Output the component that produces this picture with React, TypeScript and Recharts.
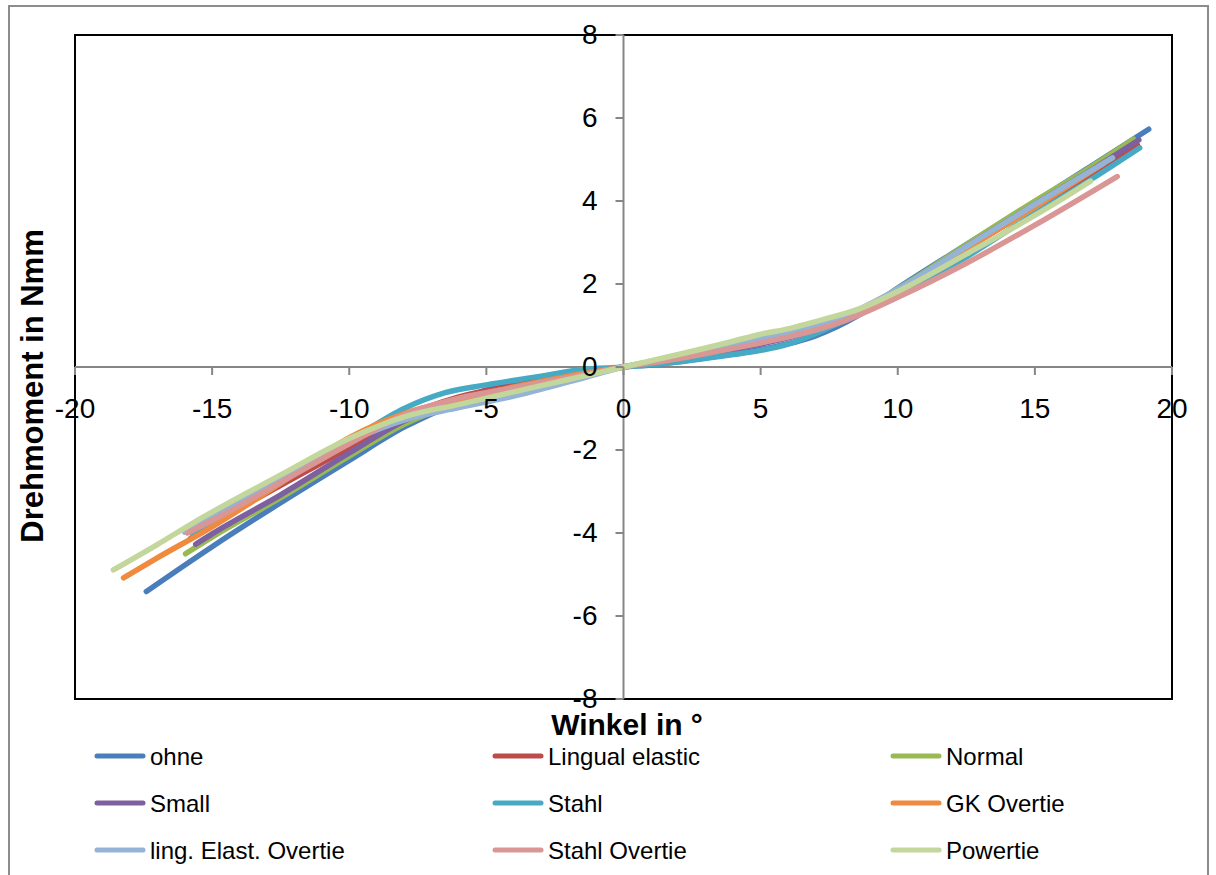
import { LineChart, Line, XAxis, YAxis, ReferenceLine, ReferenceArea, ReferenceDot } from 'recharts';

// Achsen
const xTicks = [-20, -15, -10, -5, 0, 5, 10, 15, 20];
const yTicks = [-8, -6, -4, -2, 0, 2, 4, 6, 8];

// Messkurven [Winkel in °, Drehmoment in Nmm]
const ohne = [[-17.4, -5.41], [-15, -4.33], [-12.5, -3.27], [-10, -2.25], [-8, -1.45], [-6.5, -0.98], [-5, -0.55], [-3, -0.3], [-1, -0.1], [0, 0], [1, 0.05], [3, 0.22], [5, 0.42], [7, 0.75], [8.5, 1.22], [10, 1.9], [12.5, 2.95], [15, 3.98], [17, 4.82], [19.15, 5.73]];
const lingualElastic = [[-15.8, -4.14], [-15, -3.8], [-12.5, -2.85], [-10, -1.95], [-8, -1.2], [-6, -0.72], [-4, -0.45], [-2, -0.22], [0, 0], [2, 0.2], [4, 0.45], [6, 0.72], [8, 1.15], [10, 1.8], [12.5, 2.85], [15, 3.85], [17, 4.6], [18.74, 5.35]];
const normal = [[-15.97, -4.5], [-15, -4.1], [-12.5, -3.15], [-10, -2.15], [-8, -1.38], [-6, -0.85], [-4, -0.5], [-2, -0.25], [0, 0], [2, 0.22], [4, 0.45], [6, 0.72], [8, 1.15], [10, 1.88], [12.5, 2.95], [15, 4.0], [17, 4.8], [18.6, 5.49]];
const small = [[-15.6, -4.27], [-15, -4.02], [-12.5, -3.08], [-10, -2.07], [-8, -1.3], [-6, -0.8], [-4, -0.48], [-2, -0.22], [0, 0], [2, 0.2], [4, 0.43], [6, 0.7], [8, 1.12], [10, 1.85], [12.5, 2.9], [15, 3.92], [17, 4.72], [18.79, 5.47]];
const stahl = [[-15.7, -4.05], [-15, -3.75], [-12.5, -2.72], [-10, -1.78], [-8, -1.0], [-6.5, -0.62], [-5, -0.43], [-3, -0.22], [-1.5, -0.06], [0, 0], [2, 0.12], [4, 0.3], [5, 0.4], [6, 0.55], [7, 0.8], [8, 1.1], [10, 1.7], [12.5, 2.65], [15, 3.7], [17, 4.5], [18.82, 5.28]];
const gkOvertie = [[-18.23, -5.08], [-17, -4.6], [-15, -3.85], [-12.5, -2.8], [-10, -1.7], [-8, -1.12], [-6, -0.78], [-4, -0.48], [-2, -0.22], [0, 0], [2, 0.25], [4, 0.52], [6, 0.8], [8, 1.18], [10, 1.82], [12.5, 2.85], [15, 3.85], [17.5, 4.9]];
const lingElastOvertie = [[-16, -3.98], [-15, -3.6], [-12.5, -2.68], [-10, -1.8], [-8, -1.28], [-6, -0.98], [-4, -0.7], [-2, -0.36], [0, 0], [2, 0.25], [4, 0.55], [6, 0.85], [8, 1.22], [10, 1.88], [12.5, 2.9], [15, 3.92], [17.83, 5.04]];
const stahlOvertie = [[-15.9, -4.0], [-15, -3.7], [-12.5, -2.78], [-10, -1.85], [-8, -1.15], [-6, -0.75], [-4, -0.5], [-2, -0.25], [0, 0], [2, 0.2], [4, 0.45], [5, 0.58], [6, 0.72], [8, 1.1], [10, 1.68], [12.5, 2.5], [15, 3.42], [18, 4.59]];
const powertie = [[-18.6, -4.89], [-17, -4.28], [-15.7, -3.76], [-12.5, -2.6], [-10, -1.72], [-8, -1.2], [-6, -0.9], [-4, -0.6], [-2, -0.3], [0, 0], [2, 0.3], [4, 0.62], [5, 0.79], [6, 0.92], [7.2, 1.13], [8.6, 1.4], [10, 1.82], [12.5, 2.72], [15.5, 3.85], [17.03, 4.48]];

const series = [
  { name: 'ohne', color: '#4A7EBB', points: ohne },
  { name: 'Lingual elastic', color: '#BE4B48', points: lingualElastic },
  { name: 'Normal', color: '#98B954', points: normal },
  { name: 'Small', color: '#7D60A0', points: small },
  { name: 'Stahl', color: '#46AAC5', points: stahl },
  { name: 'GK Overtie', color: '#F08A3E', points: gkOvertie },
  { name: 'ling. Elast. Overtie', color: '#95B3D7', points: lingElastOvertie },
  { name: 'Stahl Overtie', color: '#D99694', points: stahlOvertie },
  { name: 'Powertie', color: '#C3D69B', points: powertie },
];

const FONT = '"Liberation Sans", Arial, sans-serif';
const AXIS_GRAY = '#868686';

function XTickMark({ cx, cy, value }: any) {
  return (
    <g>
      <line x1={cx} y1={cy} x2={cx} y2={cy + 8} stroke={AXIS_GRAY} strokeWidth={2} />
      <text x={cx} y={cy + 51} textAnchor="middle" fontSize={28} fontFamily={FONT} fill="#000">
        {value}
      </text>
    </g>
  );
}

function YTickMark({ cx, cy, value }: any) {
  return (
    <g>
      <line x1={cx - 8} y1={cy} x2={cx} y2={cy} stroke={AXIS_GRAY} strokeWidth={2} />
      <text x={cx - 26} y={cy + 9} textAnchor="end" fontSize={28} fontFamily={FONT} fill="#000">
        {value}
      </text>
    </g>
  );
}

export default function App() {
  return (
    <div style={{ position: 'absolute', left: 0, top: 0, width: 1216, height: 875, overflow: 'hidden', background: '#fff' }}>
      {/* äußerer Diagrammrahmen */}
      <div
        style={{
          position: 'absolute',
          left: 8,
          top: 5,
          width: 1201,
          height: 900,
          border: '2px solid #8c8c8c',
          boxSizing: 'border-box',
        }}
      />

      <div style={{ position: 'absolute', left: 0, top: 0 }}>
        <LineChart width={1216} height={875} margin={{ top: 35, right: 44, bottom: 176, left: 75 }}>
          <XAxis type="number" dataKey="x" domain={[-20, 20]} ticks={xTicks} hide allowDataOverflow />
          <YAxis type="number" dataKey="y" domain={[-8, 8]} ticks={yTicks} hide allowDataOverflow />

          <ReferenceArea x1={-20} x2={20} y1={-8} y2={8} fill="#fff" fillOpacity={0} stroke="#000" strokeWidth={2} />
          <ReferenceLine x={0} stroke={AXIS_GRAY} strokeWidth={2} />
          <ReferenceLine y={0} stroke={AXIS_GRAY} strokeWidth={2} />

          {xTicks.map((t) => (
            <ReferenceDot
              key={'x' + t}
              x={t}
              y={0}
              r={0}
              ifOverflow="visible"
              shape={(p: any) => <XTickMark cx={p.cx} cy={p.cy} value={t} />}
            />
          ))}
          {yTicks.map((t) => (
            <ReferenceDot
              key={'y' + t}
              x={0}
              y={t}
              r={0}
              ifOverflow="visible"
              shape={(p: any) => <YTickMark cx={p.cx} cy={p.cy} value={t} />}
            />
          ))}

          {series.map((s) => (
            <Line
              key={s.name}
              data={s.points.map(([x, y]) => ({ x, y }))}
              dataKey="y"
              type="monotone"
              stroke={s.color}
              strokeWidth={5.5}
              strokeLinecap="round"
              dot={false}
              activeDot={false}
              name={s.name}
              isAnimationActive={false}
            />
          ))}
        </LineChart>
      </div>

      {/* Achsentitel und Legende */}
      <svg width={1216} height={875} style={{ position: 'absolute', left: 0, top: 0, pointerEvents: 'none' }}>
        <text x={627} y={735} textAnchor="middle" fontSize={30} fontWeight="bold" fontFamily={FONT} fill="#000">
          Winkel in °
        </text>
        <text
          transform="translate(43, 386) rotate(-90)"
          textAnchor="middle"
          fontSize={31}
          fontWeight="bold"
          fontFamily={FONT}
          fill="#000"
        >
          Drehmoment in Nmm
        </text>

        {series.map((s, i) => {
          const lx = 97 + (i % 3) * 398;
          const ly = 756 + Math.floor(i / 3) * 47;
          return (
            <g key={s.name}>
              <line x1={lx} y1={ly} x2={lx + 46} y2={ly} stroke={s.color} strokeWidth={5} strokeLinecap="round" />
              <text x={lx + 53} y={ly + 9} fontSize={24} fontFamily={FONT} fill="#000">
                {s.name}
              </text>
            </g>
          );
        })}
      </svg>
    </div>
  );
}
